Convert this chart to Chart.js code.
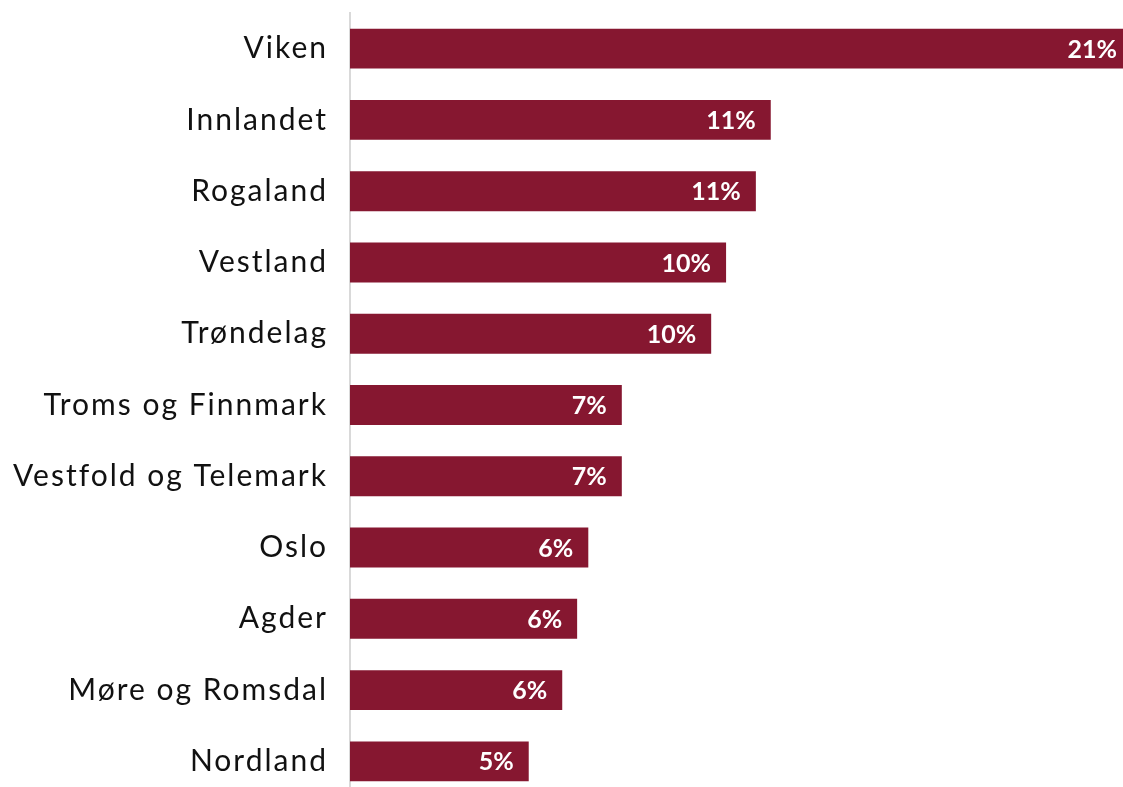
<!DOCTYPE html>
<html>
<head>
<meta charset="utf-8">
<script src="https://cdn.jsdelivr.net/npm/chart.js"></script>
<style>
  html, body { margin: 0; padding: 0; background: #fff; overflow: hidden; }
  /* the plot runs slightly past the bottom of the window, as in the source */
  #wrap { width: 1123px; height: 797px; position: relative; }
</style>
</head>
<body>
<div id="wrap"><canvas id="fylkeChart"></canvas></div>
<script>
// share per county, percent
const regions = ['Viken', 'Innlandet', 'Rogaland', 'Vestland', 'Trøndelag', 'Troms og Finnmark',
  'Vestfold og Telemark', 'Oslo', 'Agder', 'Møre og Romsdal', 'Nordland'];
const shares = [21.0, 11.3, 10.9, 10.1, 9.7, 7.3, 7.3, 6.4, 6.1, 5.7, 4.8];
const shareLabels = ['21%', '11%', '11%', '10%', '10%', '7%', '7%', '6%', '6%', '6%', '5%'];

const barColor = '#861730';

// wider tracking for the category labels
const spacing = {
    id: 'spacing',
    beforeDraw(chart) { chart.ctx.letterSpacing = '2px'; }
};

// simple value labels inside the bar end (no datalabels plugin available)
const valueLabels = {
    id: 'valueLabels',
    afterDatasetsDraw(chart) {
        const ctx = chart.ctx;
        const meta = chart.getDatasetMeta(0);
        ctx.save();
        ctx.letterSpacing = '0px';
        ctx.font = 'bold 25px Lato';
        ctx.fillStyle = '#ffffff';
        ctx.textAlign = 'right';
        ctx.textBaseline = 'middle';
        meta.data.forEach((bar, i) => {
            ctx.fillText(shareLabels[i], bar.x - 15, bar.y + 1);
        });
        ctx.restore();
    }
};

const ctx = document.getElementById('fylkeChart').getContext('2d');
new Chart(ctx, {
    type: 'bar',
    data: {
        labels: regions,
        datasets: [{
            data: shares,
            backgroundColor: barColor,
            borderWidth: 0,
            barPercentage: 0.56,
            categoryPercentage: 1.0
        }]
    },
    options: {
        indexAxis: 'y',
        responsive: true,
        maintainAspectRatio: false,
        animation: false,
        layout: { padding: { top: 13, right: 0, bottom: 0, left: 0 } },
        plugins: {
            legend: { display: false },
            tooltip: { enabled: false },
            title: { display: false }
        },
        scales: {
            x: {
                display: false,
                min: 0,
                max: 20.76   // Viken runs past the right edge
            },
            y: {
                grid: { display: false, drawTicks: false },
                border: { display: true, color: '#d9d9d9', width: 2 },
                ticks: {
                    color: '#111111',
                    padding: 22,
                    font: { family: 'Lato', size: 30 }
                },
                afterFit(scale) {
                    scale.width = 350;
                    scale.paddingTop = 0;     // keep the plot area full height
                    scale.paddingBottom = 0;
                }
            }
        }
    },
    plugins: [spacing, valueLabels]
});
</script>
</body>
</html>
